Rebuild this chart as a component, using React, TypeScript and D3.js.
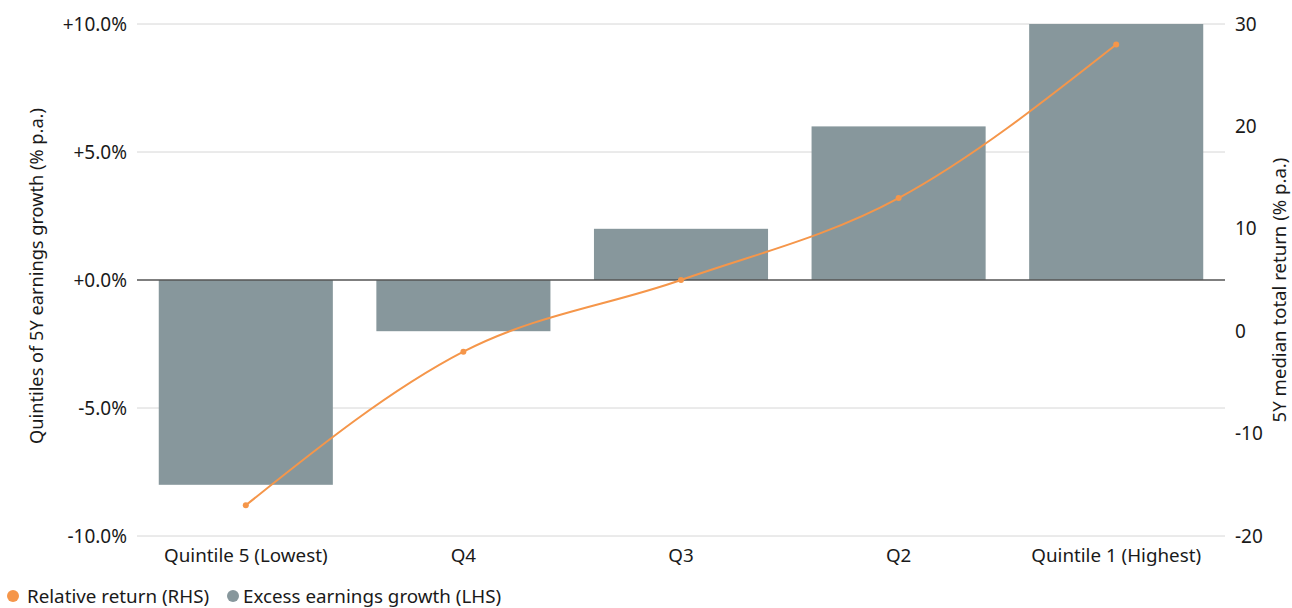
import React from "react";
import * as d3 from "d3";

const categories = ["Quintile 5 (Lowest)", "Q4", "Q3", "Q2", "Quintile 1 (Highest)"];
const excessEarningsGrowth = [-8, -2, 2, 6, 10];
const relativeReturn = [-17, -2, 5, 13, 28];
const leftTicks = [-10, -5, 0, 5, 10];
const rightTicks = [-20, -10, 0, 10, 20, 30];

const W = 1292;
const H = 608;
const FONT = "'Noto Sans', sans-serif";
const BAR = "#87979c";
const LINE = "#f5964a";
const INK = "#1a1a1a";

export default function App() {
  const x0 = 137;
  const x1 = 1225;
  const yTop = 24;
  const yBot = 536;

  const x = d3.scaleBand<string>().domain(categories).range([x0, x1]).paddingInner(0.2).paddingOuter(0.1);
  const yL = d3.scaleLinear().domain([-10, 10]).range([yBot, yTop]);
  const yR = d3.scaleLinear().domain([-20, 30]).range([yBot, yTop]);

  const fmtL = (v: number) => (v < 0 ? "-" + d3.format(".1f")(-v) : "+" + d3.format(".1f")(v)) + "%";

  const pts: [number, number][] = categories.map((c, i) => [x(c)! + x.bandwidth() / 2, yR(relativeReturn[i])]);
  const line = d3.line().curve(d3.curveMonotoneX)(pts) || "";

  return (
    <svg width={W} height={H} style={{ position: "absolute", left: 0, top: 0, fontFamily: FONT }}>
      <rect width={W} height={H} fill="#fff" />
      {leftTicks.map((t) => (
        <g key={"l" + t}>
          {t !== 0 && <line x1={x0} x2={x1} y1={yL(t)} y2={yL(t)} stroke="#d6d6d6" strokeWidth={1} />}
          <text x={127} y={yL(t)} dy="0.35em" textAnchor="end" fontSize={19} fill={INK}>
            {fmtL(t)}
          </text>
        </g>
      ))}
      {rightTicks.map((t) => (
        <text key={"r" + t} x={1235} y={yR(t)} dy="0.35em" textAnchor="start" fontSize={19} fill={INK}>
          {t}
        </text>
      ))}
      {categories.map((c, i) => {
        const v = excessEarningsGrowth[i];
        return (
          <rect
            key={c}
            x={x(c)}
            width={x.bandwidth()}
            y={Math.min(yL(v), yL(0))}
            height={Math.abs(yL(v) - yL(0))}
            fill={BAR}
          />
        );
      })}
      <line x1={x0} x2={x1} y1={yL(0)} y2={yL(0)} stroke="#555" strokeWidth={1.5} />
      <path d={line} fill="none" stroke={LINE} strokeWidth={2} />
      {pts.map((p, i) => (
        <circle key={i} cx={p[0]} cy={p[1]} r={3} fill={LINE} />
      ))}
      {categories.map((c) => (
        <text key={"c" + c} x={x(c)! + x.bandwidth() / 2} y={555} dy="0.35em" textAnchor="middle" fontSize={18.8} fill={INK}>
          {c}
        </text>
      ))}
      <text
        transform={`translate(37,276) rotate(-90)`}
        textAnchor="middle"
        dy="0.35em"
        fontSize={18.2}
        fill={INK}
      >
        Quintiles of 5Y earnings growth (% p.a.)
      </text>
      <text
        transform={`translate(1279,290) rotate(-90)`}
        textAnchor="middle"
        dy="0.35em"
        fontSize={18.6}
        fill={INK}
      >
        5Y median total return (% p.a.)
      </text>
      <g>
        <circle cx={13} cy={596} r={6} fill={LINE} />
        <text x={27} y={596} dy="0.35em" fontSize={18.8} fill={INK}>
          Relative return (RHS)
        </text>
        <circle cx={233} cy={596} r={6} fill={BAR} />
        <text x={243} y={596} dy="0.35em" fontSize={18.8} fill={INK}>
          Excess earnings growth (LHS)
        </text>
      </g>
    </svg>
  );
}
